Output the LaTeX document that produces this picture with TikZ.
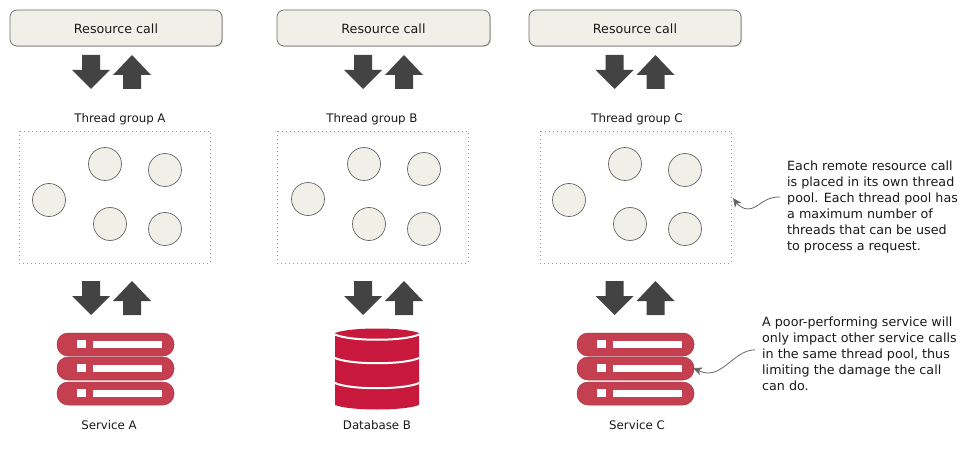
\documentclass[tikz,border=0pt]{standalone}
\usepackage{fontspec}
\setmainfont{DejaVu Sans}
\usepackage{tikz}
\usetikzlibrary{arrows.meta, shadows}
\definecolor{boxbg}{HTML}{F1F0E8}
\definecolor{boxline}{HTML}{6E6E6A}
\definecolor{arrowdark}{HTML}{434343}
\definecolor{servicered}{HTML}{C43F50}
\definecolor{dbred}{HTML}{C8193C}
\definecolor{dotline}{HTML}{9A9A9A}

\begin{document}
\begin{tikzpicture}[x=1pt, y=-1pt,
    every node/.style={font=\fontsize{12.7}{16.1}\selectfont, text=black!90, inner sep=0pt},
    smalllabel/.style={font=\fontsize{11.8}{14}\selectfont},
    resourcebox/.style={fill=boxbg, draw=boxline, line width=0.7pt, rounded corners=7pt,
      drop shadow={shadow xshift=1pt, shadow yshift=-1pt, fill=black!30, opacity=0.6}},
    threadbox/.style={draw=dotline, line width=0.9pt, dash pattern=on 1pt off 3pt},
    thread/.style={circle, fill=boxbg, draw=black!60, line width=0.7pt, minimum size=33pt},
    blockarrow/.style={fill=arrowdark, draw=none},
    pill/.style={fill=servicered, draw=servicered!85!black, line width=0.5pt, rounded corners=11pt},
    notearrow/.style={draw=black!60, line width=0.8pt, -{Stealth[length=9pt, width=8pt, inset=2.5pt]}}]
  \useasboundingbox (0,0) rectangle (972,449);

  % Resource calls
  \foreach \id/\x/\w in {a/10/212, b/277/213, c/529/212}{
    \filldraw[resourcebox] (\x,10) rectangle (\x+\w,46);
    \node (call\id) at (\x+\w/2,28.5) {Resource call};
  }

  % Block arrows
  \foreach \x in {91,363,614.5}{
    \foreach \y in {55,281}{
      \filldraw[blockarrow] (\x-9,\y) -- (\x+9,\y) -- (\x+9,\y+15) -- (\x+19,\y+15)
        -- (\x,\y+34) -- (\x-19,\y+15) -- (\x-9,\y+15) -- cycle;
      \filldraw[blockarrow] (\x+32,\y+34) -- (\x+50,\y+34) -- (\x+50,\y+20) -- (\x+60,\y+20)
        -- (\x+41,\y) -- (\x+22,\y+20) -- (\x+32,\y+20) -- cycle;
    }
  }

  % Thread groups
  \foreach \id/\lx/\x/\lab in {a/120/19/Thread group A, b/372/277/Thread group B, c/637/540/Thread group C}{
    \node[smalllabel] (group\id) at (\lx,119.5) {\lab};
    \draw[threadbox] (\x,131) rectangle (\x+191,263);
  }
  \foreach \x/\dx in {0/0, 259/-1, 520/0}{
    \node[thread] at (49+\x,200+\dx) {};
    \node[thread] at (105+\x,164) {};
    \node[thread] at (165+\x,170+\dx) {};
    \node[thread] at (110+\x,224) {};
    \node[thread] at (165+\x,229) {};
  }

  % Services
  \foreach \x in {0,520}{
    \foreach \y in {333,357,382}{
      \filldraw[pill] (57+\x,\y) rectangle (174+\x,\y+23);
      \fill[white] (77+\x,\y+7) rectangle (86+\x,\y+15);
      \fill[white] (93+\x,\y+8) rectangle (162+\x,\y+15);
    }
  }
  \coordinate (servicec) at (693,368);
  \node[smalllabel] (labela) at (109,425.5) {Service A};
  \node[smalllabel] (labelc) at (637,425.5) {Service C};

  % Database
  \fill[dbred] (335,333) -- (335,405) .. controls (350,411) and (404,411) .. (419,405)
    -- (419,333) .. controls (404,327) and (350,327) .. (335,333) -- cycle;
  \foreach \y in {334.5,358,383}{
    \draw[white, line width=2pt] (335,\y) .. controls (350,\y+7) and (404,\y+7) .. (419,\y);
  }
  \node[smalllabel] (labelb) at (377,425.5) {Database B};

  % Notes
  \node[anchor=north west, align=left] (notepool) at (787,160.5)
    {Each remote resource call\\is placed in its own thread\\pool. Each thread pool has\\a maximum number of\\threads that can be used\\to process a request.};
  \node[anchor=north west, align=left] (noteservice) at (762,316.5)
    {A poor-performing service will\\only impact other service calls\\in the same thread pool, thus\\limiting the damage the call\\can do.};
  \coordinate (poolside) at (733,198);
  \draw[notearrow] ([xshift=-7pt,yshift=10pt]notepool.west) .. controls (764,196) and (758,209) .. (748,209)
    .. controls (743,209) and (738,205) .. (poolside);
  \draw[notearrow] ([xshift=-7pt,yshift=4pt]noteservice.west) .. controls (736,350) and (725,373) .. (708,373)
    .. controls (702,373) and (698,370) .. (servicec);
\end{tikzpicture}
\end{document}
